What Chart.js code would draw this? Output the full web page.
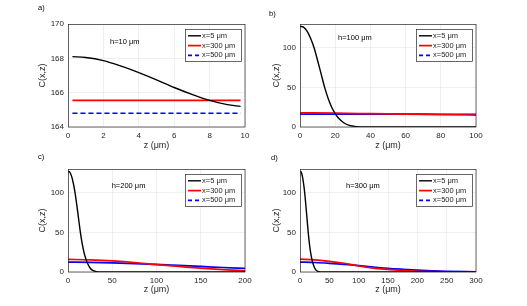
<!DOCTYPE html>
<html>
<head>
<meta charset="utf-8">
<script src="https://cdn.jsdelivr.net/npm/chart.js@4"></script>
<style>
  html, body { margin: 0; padding: 0; background: #fff; }
  #wrap { position: relative; width: 527px; height: 306px; }
  #wrap canvas { position: absolute; }
</style>
</head>
<body>
<div id="wrap">
  <canvas id="pa" width="264" height="153" style="left:0;top:0"></canvas>
  <canvas id="pb" width="263" height="153" style="left:264px;top:0"></canvas>
  <canvas id="pc" width="264" height="153" style="left:0;top:153px"></canvas>
  <canvas id="pd" width="263" height="153" style="left:264px;top:153px"></canvas>
</div>
<script>
/* ---- data ---- */
const seriesNames = ['x=5 \u03bcm', 'x=300 \u03bcm', 'x=500 \u03bcm'];

// a) h=10 um
const zA      = [0.25, 1, 2, 3, 4, 5, 6, 7, 8, 9, 9.75];
const blackA  = [168.1, 168.05, 167.87, 167.55, 167.17, 166.75, 166.3, 165.9, 165.55, 165.3, 165.2];
const redA    = [165.55, 165.55, 165.55, 165.55, 165.55, 165.55, 165.55, 165.55, 165.55, 165.55, 165.55];
const blueA   = [164.8, 164.8, 164.8, 164.8, 164.8, 164.8, 164.8, 164.8, 164.8, 164.8, 164.8];

// x=5 um near-surface profile (b, c, d)
const zBlack  = [0, 2, 4, 6, 8, 10, 12, 14, 16, 18, 20, 22, 25, 28, 32, 38];
const cBlack  = [127, 126, 121, 112, 100, 84, 67, 50, 36, 25, 17, 11, 5, 2, 0.5, 0];

// b) h=100 um
const zB      = [0, 20, 40, 60, 80, 100];
const redB    = [17.9, 17.4, 16.8, 16.2, 15.6, 15];
const blueB   = [16.2, 16.2, 16.2, 16.2, 16.1, 16.1];

// c) h=200 um
const zC      = [0, 25, 50, 75, 100, 125, 150, 175, 200];
const redC    = [16, 15.3, 14, 12, 9.2, 7, 4.8, 3, 1.5];
const blueC   = [12.5, 12.1, 11.4, 10.5, 9.6, 8.3, 7, 5.7, 4.5];

// d) h=300 um
const zD      = [0, 25, 50, 75, 100, 125, 150, 175, 200, 225, 250, 300];
const redD    = [16.3, 15.2, 13.5, 11, 7.6, 5, 3.3, 1.8, 0.9, 0.4, 0.2, 0.05];
const blueD   = [12.5, 12, 11, 9.7, 8, 6.3, 4.6, 3.4, 2.4, 1.6, 0.9, 0.2];

// tick labels
const xTicksA = [0, 2, 4, 6, 8, 10];
const yTicksA = [164, 166, 168, 170];
const xTicksB = [0, 20, 40, 60, 80, 100];
const xTicksC = [0, 50, 100, 150, 200];
const xTicksD = [0, 50, 100, 150, 200, 250, 300];
const yTicksC = [0, 50, 100];

const FONT = '"Liberation Sans", Arial, Helvetica, sans-serif';
const AX = '#262626';
const colors = ['#000000', '#ff0000', '#0000ff'];

const pts = (xs, ys) => xs.map((x, i) => ({ x: x, y: ys[i] }));

// axes box, boxed legend, text note and panel letter
const decor = {
    id: 'decor',
    afterDraw(chart, args, o) {
        const { ctx, chartArea: a } = chart;
        ctx.save();
        ctx.strokeStyle = AX;
        ctx.lineWidth = 0.7;
        ctx.strokeRect(a.left + 0.5, a.top + 0.5, a.right - a.left - 0.5, a.bottom - a.top - 0.5);

        // legend
        const w = 56, h = 32;
        const lx = a.right - 4 - w, ly = a.top + 5;
        ctx.fillStyle = '#fff';
        ctx.fillRect(lx, ly, w, h);
        ctx.strokeRect(lx + 0.5, ly + 0.5, w, h);
        ctx.font = '7.5px ' + FONT;
        ctx.textBaseline = 'middle';
        chart.data.datasets.forEach((ds, i) => {
            const y = ly + 6.8 + i * 9.8;
            ctx.strokeStyle = ds.borderColor;
            ctx.lineWidth = ds.borderWidth;
            ctx.setLineDash(i === 2 ? [4, 3] : []);
            ctx.beginPath();
            ctx.moveTo(lx + 3, y);
            ctx.lineTo(lx + 16, y);
            ctx.stroke();
            ctx.setLineDash([]);
            ctx.fillStyle = AX;
            ctx.fillText(ds.label, lx + 17, y);
        });

        // h= note
        ctx.fillStyle = '#000';
        ctx.fillText(o.note, a.left + o.nx, a.top + o.ny);

        // panel letter
        ctx.fillText(o.letter, o.lx, o.ly);
        ctx.restore();
    }
};

function makePanel(id, cfg) {
    const sets = [cfg.black, cfg.red, cfg.blue];
    return new Chart(document.getElementById(id), {
        type: 'line',
        data: {
            datasets: sets.map((d, i) => ({
                label: seriesNames[i],
                data: d,
                borderColor: colors[i],
                borderWidth: i === 0 ? 1.4 : 1.7,
                borderDash: (i === 2 && cfg.dashed) ? [5, 3] : [],
                pointRadius: 0,
                fill: false,
                cubicInterpolationMode: 'monotone'
            }))
        },
        options: {
            responsive: false,
            animation: false,
            events: [],
            layout: { padding: { top: cfg.top, right: cfg.right, bottom: 0, left: 0 } },
            plugins: {
                legend: { display: false },
                tooltip: { enabled: false },
                decor: { note: cfg.note, nx: cfg.nx, ny: cfg.ny, letter: cfg.letter, lx: cfg.lx, ly: cfg.ly }
            },
            scales: {
                x: {
                    type: 'linear',
                    min: cfg.xTicks[0],
                    max: cfg.xTicks[cfg.xTicks.length - 1],
                    afterBuildTicks: s => { s.ticks = cfg.xTicks.map(v => ({ value: v })); },
                    afterFit: s => { s.height = cfg.xh; },
                    grid: { color: '#e4e4e4', lineWidth: 0.6, drawTicks: false },
                    border: { display: false },
                    ticks: { color: AX, padding: 4, maxRotation: 0, font: { family: FONT, size: 8 } },
                    title: {
                        display: true, text: 'z (\u03bcm)', color: AX,
                        font: { family: FONT, size: 9 },
                        padding: { top: 0, bottom: cfg.xtPad }
                    }
                },
                y: {
                    min: cfg.yTicks[0],
                    max: cfg.ymax,
                    afterBuildTicks: s => { s.ticks = cfg.yTicks.map(v => ({ value: v })); },
                    afterFit: s => { s.width = cfg.yw; },
                    grid: { color: '#e4e4e4', lineWidth: 0.6, drawTicks: false },
                    border: { display: false },
                    ticks: { color: AX, padding: 4, font: { family: FONT, size: 8 } },
                    title: {
                        display: true, text: 'C(x,z)', color: AX,
                        font: { family: FONT, size: 9 },
                        padding: { top: cfg.ytPad, bottom: 0 }
                    }
                }
            }
        },
        plugins: [decor]
    });
}

makePanel('pa', {
    black: pts(zA, blackA), red: pts(zA, redA), blue: pts(zA, blueA), dashed: true,
    xTicks: xTicksA, yTicks: yTicksA, ymax: 170,
    top: 24, right: 19, yw: 68, xh: 26, xtPad: 1.6, ytPad: 37.6,
    note: 'h=10 \u03bcm', nx: 42, ny: 17.7, letter: 'a)', lx: 38, ly: 8
});
makePanel('pb', {
    black: pts(zBlack.concat([100]), cBlack.concat([0])), red: pts(zB, redB), blue: pts(zB, blueB), dashed: false,
    xTicks: xTicksB, yTicks: yTicksC, ymax: 130,
    top: 24, right: 51, yw: 36, xh: 26, xtPad: 1.6, ytPad: 7.6,
    note: 'h=100 \u03bcm', nx: 38, ny: 13.7, letter: 'b)', lx: 5, ly: 14
});
makePanel('pc', {
    black: pts(zBlack.concat([200]), cBlack.concat([0])), red: pts(zC, redC), blue: pts(zC, blueC), dashed: false,
    xTicks: xTicksC, yTicks: yTicksC, ymax: 130,
    top: 16, right: 19, yw: 68, xh: 34, xtPad: 10.6, ytPad: 37.6,
    note: 'h=200 \u03bcm', nx: 43.7, ny: 17.3, letter: 'c)', lx: 38, ly: 4
});
makePanel('pd', {
    black: pts(zBlack.concat([300]), cBlack.concat([0])), red: pts(zD, redD), blue: pts(zD, blueD), dashed: false,
    xTicks: xTicksD, yTicks: yTicksC, ymax: 130,
    top: 16, right: 51, yw: 36, xh: 34, xtPad: 10.6, ytPad: 7.6,
    note: 'h=300 \u03bcm', nx: 46, ny: 17, letter: 'd)', lx: 7, ly: 5
});
</script>
</body>
</html>
